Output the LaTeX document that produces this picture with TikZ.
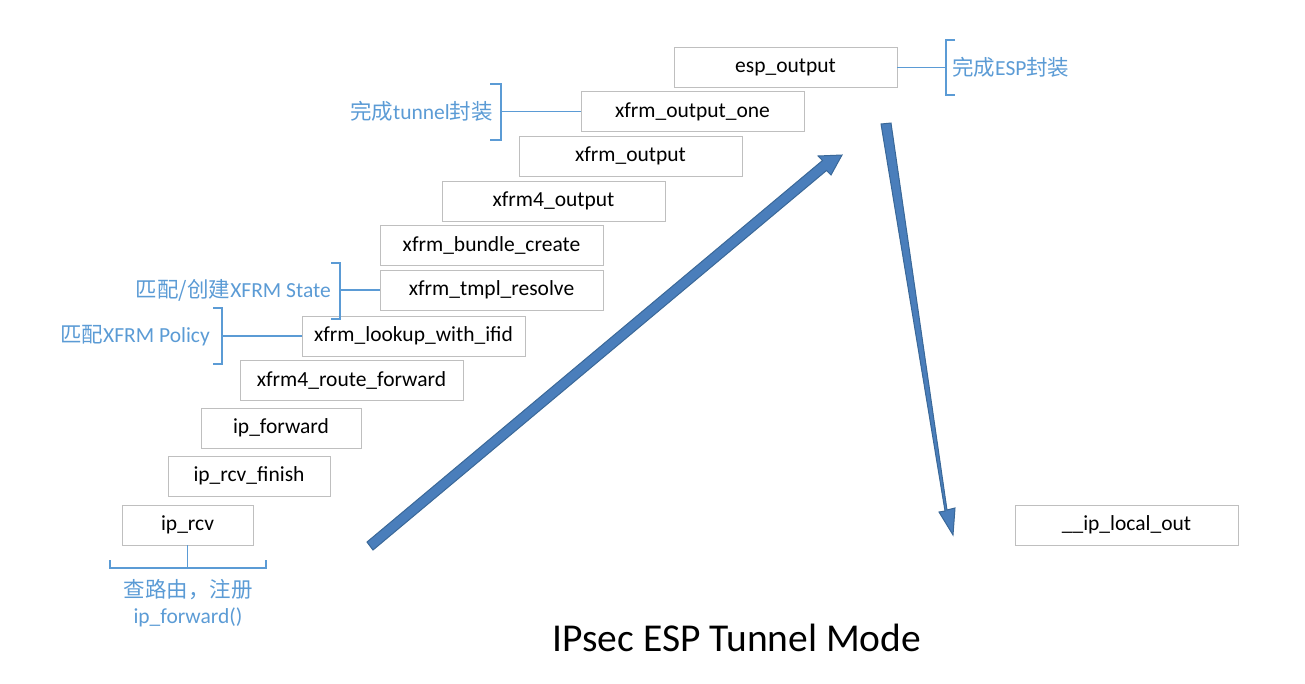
\documentclass[tikz,border=0pt]{standalone}
\usepackage{fontspec}
\setmainfont{Carlito}
\newfontfamily\cjk{Noto Sans CJK SC}
\usetikzlibrary{arrows.meta}
\definecolor{lbl}{HTML}{5B9BD5}
\definecolor{arr}{HTML}{4A7EBB}
\definecolor{arrd}{HTML}{3A6898}
\tikzset{
  fn/.style={draw=black!25, fill=white, minimum height=40pt, inner sep=0pt, font=\fontsize{21.5}{24}\selectfont},
  note/.style={text=lbl, font=\fontsize{21.5}{24}\selectfont, inner sep=0pt},
  brk/.style={color=lbl, line width=1.8pt},
  big/.style={draw=arrd, line width=1pt, fill=arr}
}
\begin{document}
\begin{tikzpicture}[x=1pt,y=-1pt]
\useasboundingbox (0,0) rectangle (1305,683);
\node[fn, minimum width=223pt] (esp) at (785.5,67.5) {esp\_output};
\node[fn, minimum width=223pt] (xoo) at (692.5,111.5) {xfrm\_output\_one};
\node[fn, minimum width=223pt] (xo) at (630.5,156) {xfrm\_output};
\node[fn, minimum width=223pt] (x4o) at (553.5,201) {xfrm4\_output};
\node[fn, minimum width=223pt] (xbc) at (491.5,245) {xfrm\_bundle\_create};
\node[fn, minimum width=223pt] (xtr) at (491.5,290) {xfrm\_tmpl\_resolve};
\node[fn, minimum width=223pt] (xl) at (413.5,336) {xfrm\_lookup\_with\_ifid};
\node[fn, minimum width=223pt] (x4r) at (351.5,380) {xfrm4\_route\_forward};
\node[fn, minimum width=160pt] (ipf) at (281,428) {ip\_forward};
\node[fn, minimum width=162pt] (iprf) at (249,476) {ip\_rcv\_finish};
\node[fn, minimum width=131pt] (iprcv) at (187.5,525) {ip\_rcv};
\node[fn, minimum width=223pt] (ilo) at (1126.5,525) {\_\_ip\_local\_out};
% brackets
\coordinate (b1) at (946,67.5);
\draw[brk] (esp.east) -- (b1);
\draw[brk] (955,40) -- (946,40) -- (946,95) -- (955,95);
\node[note, anchor=west] (n1) at (952,67) {{\cjk 完成}ESP{\cjk 封装}};
\coordinate (b2) at (501,111.5);
\draw[brk] (xoo.west) -- (b2);
\draw[brk] (490,84) -- (501,84) -- (501,140) -- (490,140);
\node[note, anchor=east] (n2) at (493,111) {{\cjk 完成}tunnel{\cjk 封装}};
\coordinate (b3) at (340,290);
\draw[brk] (xtr.west) -- (b3);
\draw[brk] (331,263) -- (340,263) -- (340,319) -- (331,319);
\node[note, anchor=east] (n3) at (331,290) {{\cjk 匹配/创建}XFRM State};
\coordinate (b4) at (222,336);
\draw[brk] (xl.west) -- (b4);
\draw[brk] (213,308) -- (222,308) -- (222,364) -- (213,364);
\node[note, anchor=east] (n4) at (210,336) {{\cjk 匹配}XFRM Policy};
\coordinate (b5) at (187.5,568);
\draw[brk] (iprcv.south) -- (b5);
\draw[brk] (110,560) -- (110,568) -- (266,568) -- (266,560);
\node[note] (n5) at (188,590) {\cjk 查路由，注册};
\node[note] (n6) at (188,617) {ip\_forward()};
% big arrows
\draw[big] (367,542) -- (822.5,160.5) -- (818,156) -- (842,155) -- (831,175) -- (826.5,170.5) -- (373,550) -- cycle;
\draw[big] (881,124) -- (891,123) -- (947,510) -- (955,508) -- (953,535) -- (939,512) -- (945,511) -- cycle;
\node[font=\fontsize{39.5}{44}\selectfont] (title) at (737,638) {IPsec ESP Tunnel Mode};
\end{tikzpicture}
\end{document}
